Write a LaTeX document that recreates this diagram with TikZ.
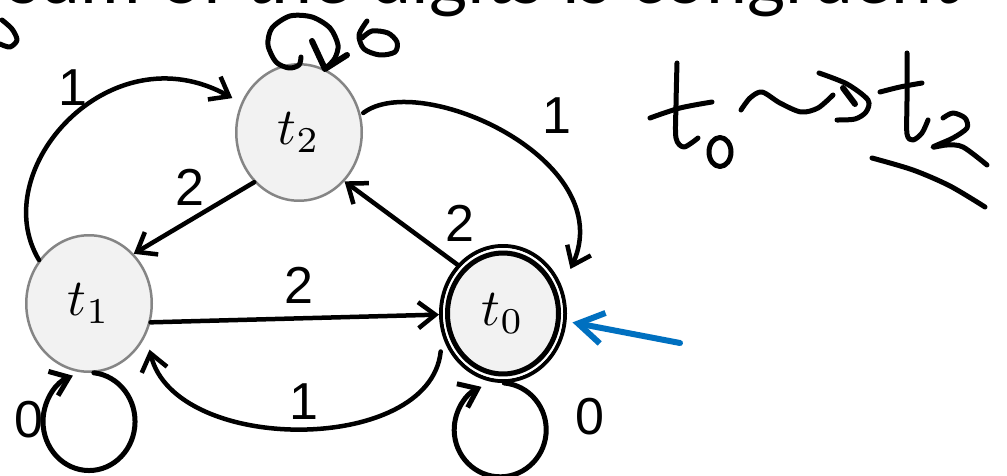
\documentclass[tikz,border=0pt]{standalone}
\usepackage{graphicx}
\usepackage{fontspec}
\setmainfont{Liberation Sans}
\newfontfamily\latofont{Lato}
\usetikzlibrary{arrows.meta,shapes.geometric}
\definecolor{nodefill}{HTML}{F2F2F2}
\definecolor{nodeborder}{HTML}{858585}
\definecolor{pointerblue}{HTML}{0070C0}
\newcommand{\stlabel}[1]{\scalebox{5.2}{$t_{#1}$}}
\begin{document}
\begin{tikzpicture}[x=1pt,y=-1pt,line cap=round,line join=round,
  stnode/.style={ellipse,draw=nodeborder,line width=2.5pt,fill=nodefill,
    minimum width=125.5pt,minimum height=136.5pt,inner sep=0pt},
  accept/.style={stnode,draw=black,line width=4pt,minimum width=124pt,minimum height=135pt},
  trans/.style={line width=4.5pt,-{Straight Barb[length=17pt 0 1,width=26pt 0 1]}},
  looptrans/.style={trans,line width=5pt},
  lbl/.style={inner sep=0pt,font=\fontsize{52}{60}\selectfont},
  ink/.style={line width=5pt,line cap=round,line join=round},
  pointer/.style={draw=pointerblue,line width=6pt,-{Straight Barb[length=25pt 0 1,width=31pt 0 1]}}]
\useasboundingbox (0,0) rectangle (1007,476);
\clip (0,0) rectangle (1007,476);
% title (cut at the top)
\node[anchor=base west,inner sep=0pt] (title) at (8,4) {\resizebox{950pt}{!}{\latofont sum of the digits is congruent}};
% states
\node[stnode] (t2) at (299,132.5) {\stlabel{2}};
\node[stnode] (t1) at (89,303.5) {\stlabel{1}};
\node[accept] (t0) at (503,313.5) {\stlabel{0}};
\draw[white,line width=2pt] (t0.center) ellipse[x radius=59,y radius=64.5];
\draw[black,line width=5pt] (t0.center) ellipse[x radius=55.5,y radius=60.5];
% straight transitions
\draw[trans] (t2.228) -- (t1.48);
\draw[trans] (t0.133) -- (t2.313);
\draw[trans] (t1.343) -- (t0.181);
% curved transitions
\draw[trans,shorten >=10pt] (t1.139) .. controls (-15,170) and (110,30) .. (t2.153);
\draw[trans,shorten >=20pt,shorten <=3pt] (t2.16) .. controls (420,70) and (620,160) .. (t0.24);
\draw[trans,shorten <=16pt,shorten >=15pt] (t0.200) .. controls (430,455) and (175,455) .. (t1.331);
% self loops
\draw[looptrans] (t1.274) arc[start angle=-84,end angle=249.4,x radius=46,y radius=49];
\draw[looptrans] (t0.271) arc[start angle=-85,end angle=246,x radius=46,y radius=47];
% labels
\node[lbl] (l21) at (190,187) {2};
\node[lbl] (l02) at (460,223) {2};
\node[lbl] (l10) at (299,285) {2};
\node[lbl] (l12) at (73,88) {1};
\node[lbl] (l20) at (557,116) {1};
\node[lbl] (l01) at (304,402) {1};
\node[lbl] (l11) at (29,420) {0};
\node[lbl] (l00) at (590,417) {0};
% start pointer
\coordinate (ptail) at (680,343);
\draw[pointer,shorten >=6pt] (ptail) -- (t0.353);
% handwriting: top-left stroke
\draw[ink] plot[smooth] coordinates {(2,20) (12,29) (17,40) (10,47) (0,44)};
% handwriting: loop on t2 with 0
\draw[ink] plot[smooth] coordinates {(301,57) (299,65) (289,68) (276,62) (268,45) (272,28) (290,16) (312,17) (330,28) (338,45) (335,58) (328,66)};
\draw[ink,line width=6pt] (312,41) -- (325,69) -- (347,55);
\draw[ink] plot[smooth] coordinates {(367,21) (359,35) (364,49) (380,55) (395,52) (397,42) (388,33) (372,31) (362,38)};
% handwriting: t0 ~> t2
\draw[ink] plot[smooth] coordinates {(677,63) (676,105) (676,138) (684,147) (698,138)};
\draw[ink] plot[smooth] coordinates {(650,118) (680,108) (712,102)};
\draw[ink] (720,152) ellipse[x radius=11,y radius=14.5];
\draw[ink] plot[smooth] coordinates {(741,110) (750,98) (762,92) (780,103) (801,112) (818,108) (833,95)};
\draw[ink] plot[smooth] coordinates {(819,73) (847,84) (868,100) (866,112) (855,119) (837,120)};
\draw[ink,line width=6pt] (843,88) -- (855,104);
\draw[ink] plot[smooth] coordinates {(907,53) (907,100) (907,134) (913,140) (922,133) (928,120)};
\draw[ink] plot[smooth] coordinates {(880,92) (900,87) (922,83)};
\draw[ink] plot[smooth] coordinates {(943,118) (953,113) (965,118) (967,128) (953,138) (933,147) (947,145) (963,147) (987,165)};
\draw[ink] plot[smooth] coordinates {(872,158) (913,170) (950,186) (985,207)};
\end{tikzpicture}
\end{document}
